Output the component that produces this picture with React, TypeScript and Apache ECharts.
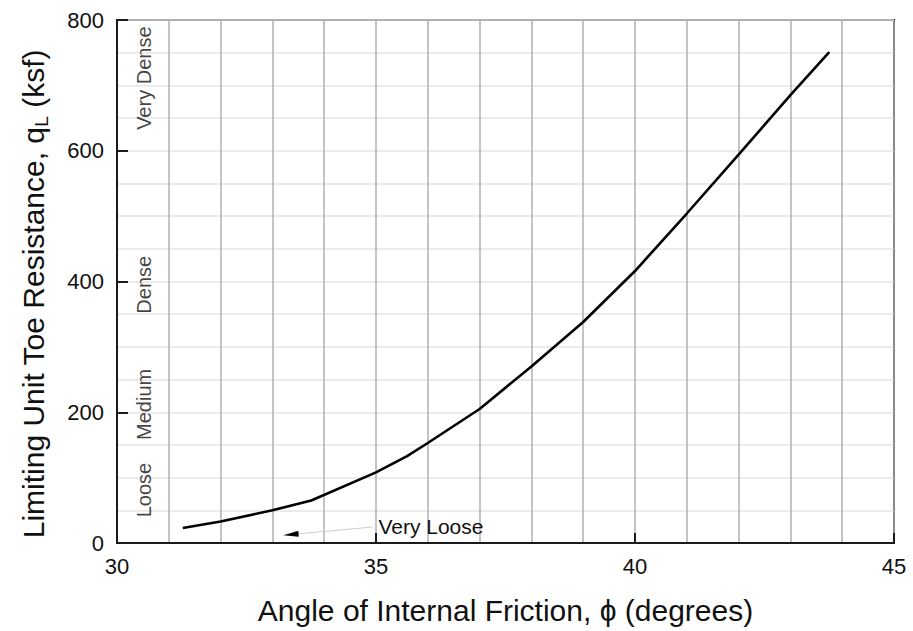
import React, { useEffect, useRef } from "react";
import * as echarts from "echarts";

// Curve: limiting unit toe resistance vs. friction angle
const angleDeg = [31.27, 32, 33, 33.75, 35, 35.6, 36, 37, 38, 39, 40, 41, 42, 43, 43.75];
const toeResistance = [23, 33, 50, 65, 108, 133, 153, 205, 270, 338, 416, 504, 594, 685, 751];

// Density region labels (rotated, along the left edge)
const regionNames = ["Loose", "Medium", "Dense", "Very Dense"];
const regionCenters = [81, 212, 395, 711];
const regionAngle = 30.53;

// "Very Loose" annotation
const annotText = "Very Loose";
const annotTail = [34.94, 24.5];
const annotTip = [33.22, 12];
const annotHead = [33.36, 13];

// Axis settings
const xMin = 30;
const xMax = 45;
const xStep = 5;
const yMin = 0;
const yMax = 800;
const yStep = 200;

const FONT = "'Liberation Sans', Arial, Helvetica, sans-serif";

export default function App() {
  const ref = useRef<HTMLDivElement>(null);

  useEffect(() => {
    if (!ref.current) return;
    const chart = echarts.init(ref.current, null, { renderer: "svg" });
    const hidden = {
      axisLine: { show: false },
      axisTick: { show: false },
      axisLabel: { show: false },
    };
    const option: any = {
      animation: false,
      backgroundColor: "#ffffff",
      grid: {
        left: 117,
        right: 19,
        top: 20,
        bottom: 88,
        show: true,
        borderColor: "#1a1a1a",
        borderWidth: 2,
        backgroundColor: "transparent",
      },
      xAxis: [
        {
          type: "value",
          min: xMin,
          max: xMax,
          interval: xStep,
          z: 3,
          name: "Angle of Internal Friction, \u03d5 (degrees)",
          nameLocation: "middle",
          nameGap: 52,
          nameTextStyle: { fontFamily: FONT, fontSize: 30, color: "#111" },
          axisLine: { show: true, lineStyle: { color: "#1a1a1a", width: 2 } },
          axisTick: { show: true, inside: true, length: 10, lineStyle: { color: "#1a1a1a", width: 2 } },
          axisLabel: { fontFamily: FONT, fontSize: 22, color: "#111", margin: 12 },
          splitLine: { show: false },
        },
        {
          type: "value",
          min: xMin,
          max: xMax,
          interval: xStep,
          z: 0,
          ...hidden,
          splitLine: { show: true, lineStyle: { color: "#b0b0b0", width: 1.5 } },
          minorTick: { show: false, splitNumber: 5 },
          minorSplitLine: { show: true, lineStyle: { color: "#b0b0b0", width: 1.5 } },
        },
      ],
      yAxis: [
        {
          type: "value",
          min: yMin,
          max: yMax,
          interval: yStep,
          z: 3,
          axisLine: { show: true, lineStyle: { color: "#1a1a1a", width: 2 } },
          axisTick: { show: true, inside: true, length: 11, lineStyle: { color: "#1a1a1a", width: 2 } },
          axisLabel: { fontFamily: FONT, fontSize: 22, color: "#111", margin: 13 },
          splitLine: { show: false },
        },
        {
          type: "value",
          min: yMin,
          max: yMax,
          interval: yStep,
          z: 0,
          ...hidden,
          splitLine: { show: true, lineStyle: { color: "#e4e4e4", width: 1.5 } },
          minorTick: { show: false, splitNumber: 4 },
          minorSplitLine: { show: true, lineStyle: { color: "#e4e4e4", width: 1.5 } },
        },
      ],
      graphic: [
        {
          type: "text",
          x: 33,
          y: 294,
          rotation: Math.PI / 2,
          style: {
            text: "{a|Limiting Unit Toe Resistance, q}{b|L}{a| (ksf)}",
            align: "center",
            verticalAlign: "middle",
            fill: "#111",
            rich: {
              a: { fontFamily: FONT, fontSize: 30, lineHeight: 35, fill: "#111" },
              b: { fontFamily: FONT, fontSize: 19, lineHeight: 35, verticalAlign: "bottom", fill: "#111" },
            },
          },
        },
      ],
      series: [
        {
          type: "line",
          xAxisIndex: 0,
          yAxisIndex: 0,
          data: angleDeg.map((a, i) => [a, toeResistance[i]]),
          showSymbol: false,
          symbol: "none",
          lineStyle: { color: "#000", width: 2.6 },
          z: 5,
          markLine: {
            silent: true,
            symbol: ["none", "none"],
            lineStyle: { color: "#d0d0d0", width: 1, type: "solid" },
            label: { show: false },
            data: [[{ coord: annotTail }, { coord: annotTip }]],
          },
          markPoint: {
            silent: true,
            data: [
              {
                coord: annotHead,
                symbol: "triangle",
                symbolSize: [6, 15],
                symbolRotate: 95,
                itemStyle: { color: "#000" },
                label: { show: false },
              },
              {
                coord: annotTail,
                symbol: "circle",
                symbolSize: 1,
                itemStyle: { color: "rgba(0,0,0,0)" },
                label: {
                  show: true,
                  position: "right",
                  distance: 5,
                  formatter: annotText,
                  fontFamily: FONT,
                  fontSize: 21,
                  color: "#111",
                },
              },
            ],
          },
        },
        {
          type: "scatter",
          xAxisIndex: 0,
          yAxisIndex: 0,
          data: regionNames.map((n, i) => ({ value: [regionAngle, regionCenters[i]], name: n })),
          symbolSize: 0,
          silent: true,
          label: {
            show: true,
            position: "inside",
            rotate: 90,
            formatter: (p: any) => p.name,
            fontFamily: FONT,
            fontSize: 20,
            color: "#111",
          },
          z: 6,
        },
      ],
    };
    chart.setOption(option);
    return () => chart.dispose();
  }, []);

  return (
    <div
      ref={ref}
      style={{ position: "absolute", left: 0, top: 0, width: 913, height: 631 }}
    />
  );
}
